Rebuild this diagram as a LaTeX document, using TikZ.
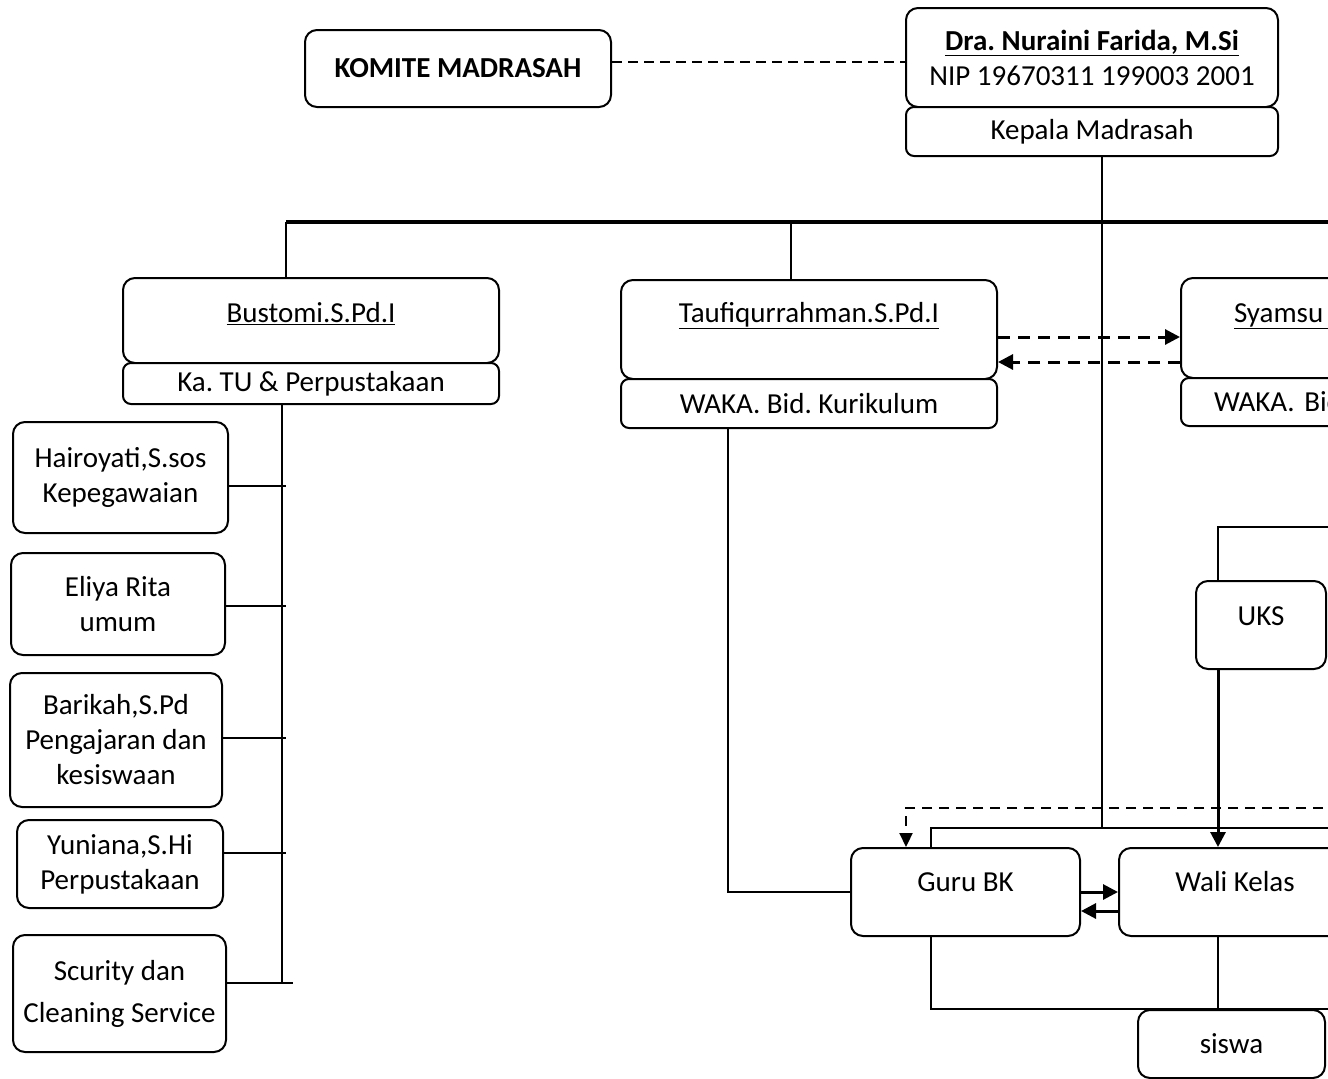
\documentclass[tikz,border=0pt]{standalone}
\usepackage{fontspec}
\setmainfont{Carlito}
\frenchspacing
\usetikzlibrary{arrows.meta, positioning, calc}
\tikzset{
  box/.style={
    draw=black, line width=2pt, rounded corners=12pt,
    fill=white, inner sep=4pt, align=center,
    font=\fontsize{29}{35}\selectfont, text=black
  },
  tab/.style={box, rounded corners=8pt},
  lift/.style={text height=20pt, text depth=#1},
  conn/.style={line width=2pt, draw=black},
  bar/.style={line width=4.5pt, draw=black},
  arr/.style={-{Triangle[length=15pt, width=15pt]}, line width=3pt, draw=black},
  dline/.style={line width=2pt, draw=black, dash pattern=on 10pt off 6pt},
  darr/.style={arr, dash pattern=on 12pt off 8pt},
  darrs/.style={-{Triangle[length=14pt, width=13pt]}, line width=2.2pt, draw=black, dash pattern=on 10pt off 7pt},
}

\begin{document}
\begin{tikzpicture}[x=1pt, y=-1pt]
  \useasboundingbox (0,0) rectangle (1328,1079);
  \clip (0,0) rectangle (1328,1079);

  % kepala dan komite
  \node[box, minimum width=372, minimum height=99] (kp) at (1092,57.5) {\textbf{\underline{Dra. Nuraini Farida, M.Si}}\\NIP 19670311 199003 2001};
  \node[tab, minimum width=372, minimum height=49] (kpj) at (1092,131.5) {Kepala Madrasah};
  \node[box, minimum width=306, minimum height=77] (km) at (458,68.5) {\textbf{KOMITE MADRASAH}};

  % waka dan ka. TU
  \node[box, lift=16pt, minimum width=376, minimum height=85] (bu) at (311,320.5) {\underline{Bustomi.S.Pd.I}};
  \node[tab, minimum width=376, minimum height=41] (tu) at (311,383.5) {Ka. TU \& Perpustakaan};
  \node[box, lift=34pt, minimum width=376, minimum height=99] (tf) at (809,329.5) {\underline{Taufiqurrahman.S.Pd.I}};
  \node[tab, minimum width=376, minimum height=49] (wk) at (809,403.5) {WAKA. Bid. Kurikulum};
  \node[box, lift=31pt, anchor=north west, text width=270, inner xsep=53, align=left, minimum height=100] (sy) at (1180,277) {\underline{Syamsu\hspace{120pt}}};
  \node[tab, anchor=north west, text width=310, inner xsep=33, align=left, minimum height=48] (sw) at (1180,377) {WAKA. Bid};

  % staf TU
  \node[box, minimum width=215, minimum height=111] (h1) at (120.5,477.5) {Hairoyati,S.sos\\Kepegawaian};
  \node[box, minimum width=214, minimum height=102] (h2) at (118,604) {Eliya Rita\\umum};
  \node[box, minimum width=212, minimum height=134] (h3) at (116,740) {Barikah,S.Pd\\Pengajaran dan\\kesiswaan};
  \node[box, minimum width=206, minimum height=88] (h4) at (120,864) {Yuniana,S.Hi\\Perpustakaan};
  \node[box, minimum width=213, minimum height=117] (h5) at (119.5,993.5) {Scurity dan\\[7pt]Cleaning Service};

  % bawah
  \node[box, lift=21pt, minimum width=229, minimum height=88] (gb) at (965.5,892) {Guru BK};
  \node[box, lift=21pt, minimum width=232, minimum height=88] (wl) at (1235,892) {Wali Kelas};
  \node[box, lift=19pt, minimum width=130, minimum height=88] (uk) at (1261,625) {UKS};
  \node[box, minimum width=187, minimum height=68] (sis) at (1231.5,1044) {siswa};

  \coordinate (barL) at (286,222);
  \coordinate (barR) at (1340,222);
  \coordinate (t1) at (791,222);
  \coordinate (j1) at (1102,828);
  \coordinate (j0) at (931,828);
  \coordinate (jR) at (1340,828);
  \coordinate (d0) at (906,808);
  \coordinate (dR) at (1340,808);
  \coordinate (u0) at (1218,527);
  \coordinate (uR) at (1340,527);
  \coordinate (k1) at (728,891);
  \coordinate (s0) at (931,1009);
  \coordinate (s1) at (1218,1009);
  \coordinate (sR) at (1340,1009);
  \coordinate (tu1) at (282,983);
  \coordinate (tk) at (286,0);
  \coordinate (km1) at ([yshift=6.5pt]km.east);
  \coordinate (ta1) at ([yshift=-7.5pt]tf.east);
  \coordinate (ta2) at ([yshift=-32.5pt]tf.east);
  \coordinate (ga1) at ([yshift=-19pt]wl.west);

  \draw[dline] (km1) -- (km1 -| kp.west);
  \draw[bar] (barL) -- (barR);
  \draw[conn] (barL) -- (barL |- bu.north);
  \draw[conn] (t1) -- (t1 |- tf.north);
  \draw[conn] (kpj.south -| j1) -- (j1);

  % garis TU
  \draw[conn] (tu.south -| tu1) -- (tu1);
  \foreach \n/\dy in {h1/-8.5, h2/-2, h3/2, h4/11}
    \draw[conn] ([yshift=\dy pt]\n.east) -- ([yshift=\dy pt]\n.east -| tk);
  \draw[conn] ([yshift=10.5pt]h5.east) -- ++(66,0);

  \draw[darr] (ta1) -- (ta1 -| sy.west);
  \draw[darr] (ta2 -| sy.west) -- (ta2);

  \draw[conn] (wk.south -| k1) |- (gb.west);
  \draw[conn] (gb.north -| j0) |- (jR);
  \draw[darrs] (dR) -| (d0 |- gb.north);
  \draw[conn] (uk.north -| u0) |- (uR);
  \draw[arr] (uk.south -| u0) -- (wl.north -| u0);
  \draw[arr] (gb.east) -- (gb.east -| wl.west);
  \draw[arr] (ga1) -- (ga1 -| gb.east);
  \draw[conn] (gb.south -| s0) |- (sR);
  \draw[conn] (wl.south -| s1) -- (s1);
\end{tikzpicture}
\end{document}
